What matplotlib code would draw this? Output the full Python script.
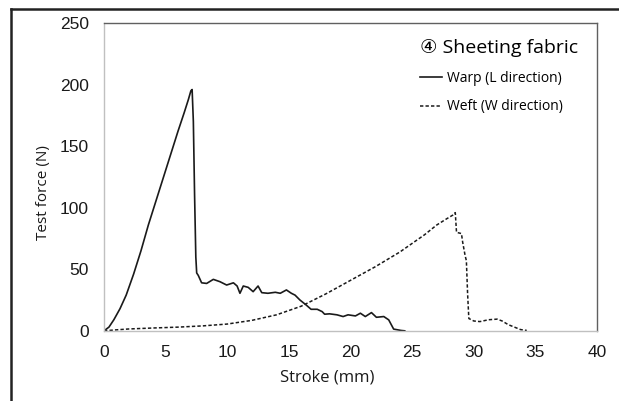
import matplotlib
matplotlib.use("Agg")
import matplotlib.pyplot as plt
from matplotlib.lines import Line2D

# Warp (L direction), solid line
warp_x = [0.0, 0.4, 0.8, 1.3, 1.8, 2.4, 3.0, 3.6, 4.2, 4.8, 5.4, 6.0, 6.5, 6.85,
          7.05, 7.15, 7.25, 7.35, 7.45, 7.52, 7.65, 7.92, 8.33, 8.87, 9.41, 9.95,
          10.5, 10.8, 11.03, 11.3, 11.7, 12.1, 12.5, 12.8, 13.3, 13.9, 14.3, 14.8,
          15.2, 15.5, 15.9, 16.4, 16.8, 17.3, 17.7, 17.9, 18.3, 18.9, 19.4, 19.8,
          20.4, 20.8, 21.2, 21.7, 22.1, 22.7, 23.1, 23.5, 24.1, 24.4]
warp_y = [0.0, 3.0, 9.0, 18.0, 29.0, 46.0, 65.0, 86.0, 105.0, 124.0, 143.0, 162.0,
          177.0, 188.0, 195.0, 196.0, 170.0, 110.0, 60.0, 47.0, 45.0, 39.0, 38.5,
          41.8, 39.9, 37.2, 39.0, 36.4, 30.5, 36.4, 35.3, 31.8, 36.4, 31.0, 30.5,
          31.3, 30.5, 33.2, 30.5, 29.0, 25.0, 21.0, 17.5, 17.5, 15.6, 13.5, 13.8,
          13.0, 11.6, 13.0, 12.1, 14.3, 11.6, 14.8, 11.0, 11.6, 8.9, 1.4, 0.3, 0.0]

# Weft (W direction), dashed line
weft_x = [0.0, 1.0, 2.0, 4.0, 6.0, 8.0, 10.0, 12.0, 14.0, 16.0, 18.0, 20.0, 22.0,
          24.0, 26.0, 27.0, 27.8, 28.3, 28.5, 28.6, 29.0, 29.1, 29.3, 29.4, 29.5,
          29.6, 30.0, 30.5, 31.2, 31.9, 32.3, 32.8, 33.3, 33.8, 34.3]
weft_y = [0.0, 0.8, 1.5, 2.3, 3.0, 4.0, 5.5, 8.5, 13.0, 20.0, 30.0, 41.0, 52.0,
          64.0, 78.0, 86.0, 91.0, 94.0, 96.0, 80.0, 79.0, 72.0, 61.0, 57.0, 30.0,
          10.0, 8.0, 7.5, 9.0, 9.5, 8.0, 5.0, 3.0, 1.0, 0.3]

x_ticks = [0, 5, 10, 15, 20, 25, 30, 35, 40]
y_ticks = [0, 50, 100, 150, 200, 250]

label_font = ["Open Sans", "DejaVu Sans"]

fig = plt.figure(figsize=(6.19, 4.01), dpi=100)
ax = fig.add_axes([0.168, 0.175, 0.7965, 0.7675])

warp_line, = ax.plot(warp_x, warp_y, color="#1a1a1a", lw=1.2,
                     label="Warp (L direction)")
weft_line, = ax.plot(weft_x, weft_y, color="#1a1a1a", lw=1.1,
                     linestyle=(0, (2.2, 1.4)), label="Weft (W direction)")

ax.set_xlim(0, 40)
ax.set_ylim(0, 250)
ax.set_xticks(x_ticks)
ax.set_yticks(y_ticks)
ax.tick_params(length=0, labelsize=12.5)
ax.tick_params(axis="x", pad=10)
ax.tick_params(axis="y", pad=11)
for lbl in ax.get_xticklabels() + ax.get_yticklabels():
    lbl.set_family("Liberation Sans")
    lbl.set_color("#1a1a1a")

ax.spines["left"].set_color("#c0c0c0")
ax.spines["bottom"].set_color("#c0c0c0")
ax.spines["top"].set_color("#606060")
ax.spines["right"].set_color("#606060")
for s in ax.spines.values():
    s.set_linewidth(1.0)

ax.set_xlabel("Stroke (mm)", family=label_font, fontsize=12, color="#1a1a1a")
ax.set_ylabel("Test force (N)", family=label_font, fontsize=11, color="#1a1a1a")
ax.xaxis.set_label_coords(0.452, -0.125)
ax.yaxis.set_label_coords(-0.107, 0.45)

leg = ax.legend(handles=[warp_line, weft_line], title="④ Sheeting fabric",
                loc="upper left", bbox_to_anchor=(0.615, 0.99), frameon=False,
                handlelength=1.6, handletextpad=0.4, labelspacing=1.0,
                prop={"family": label_font, "size": 10},
                title_fontproperties={"family": label_font, "size": 14},
                alignment="left")

# outer frame on the left and top
fig.add_artist(Line2D([0.018, 0.018], [0.0, 0.978], color="#222222", lw=1.8,
                      transform=fig.transFigure))
fig.add_artist(Line2D([0.017, 1.0], [0.977, 0.977], color="#222222", lw=1.8,
                      transform=fig.transFigure))

fig.savefig("out.png", dpi=100)
